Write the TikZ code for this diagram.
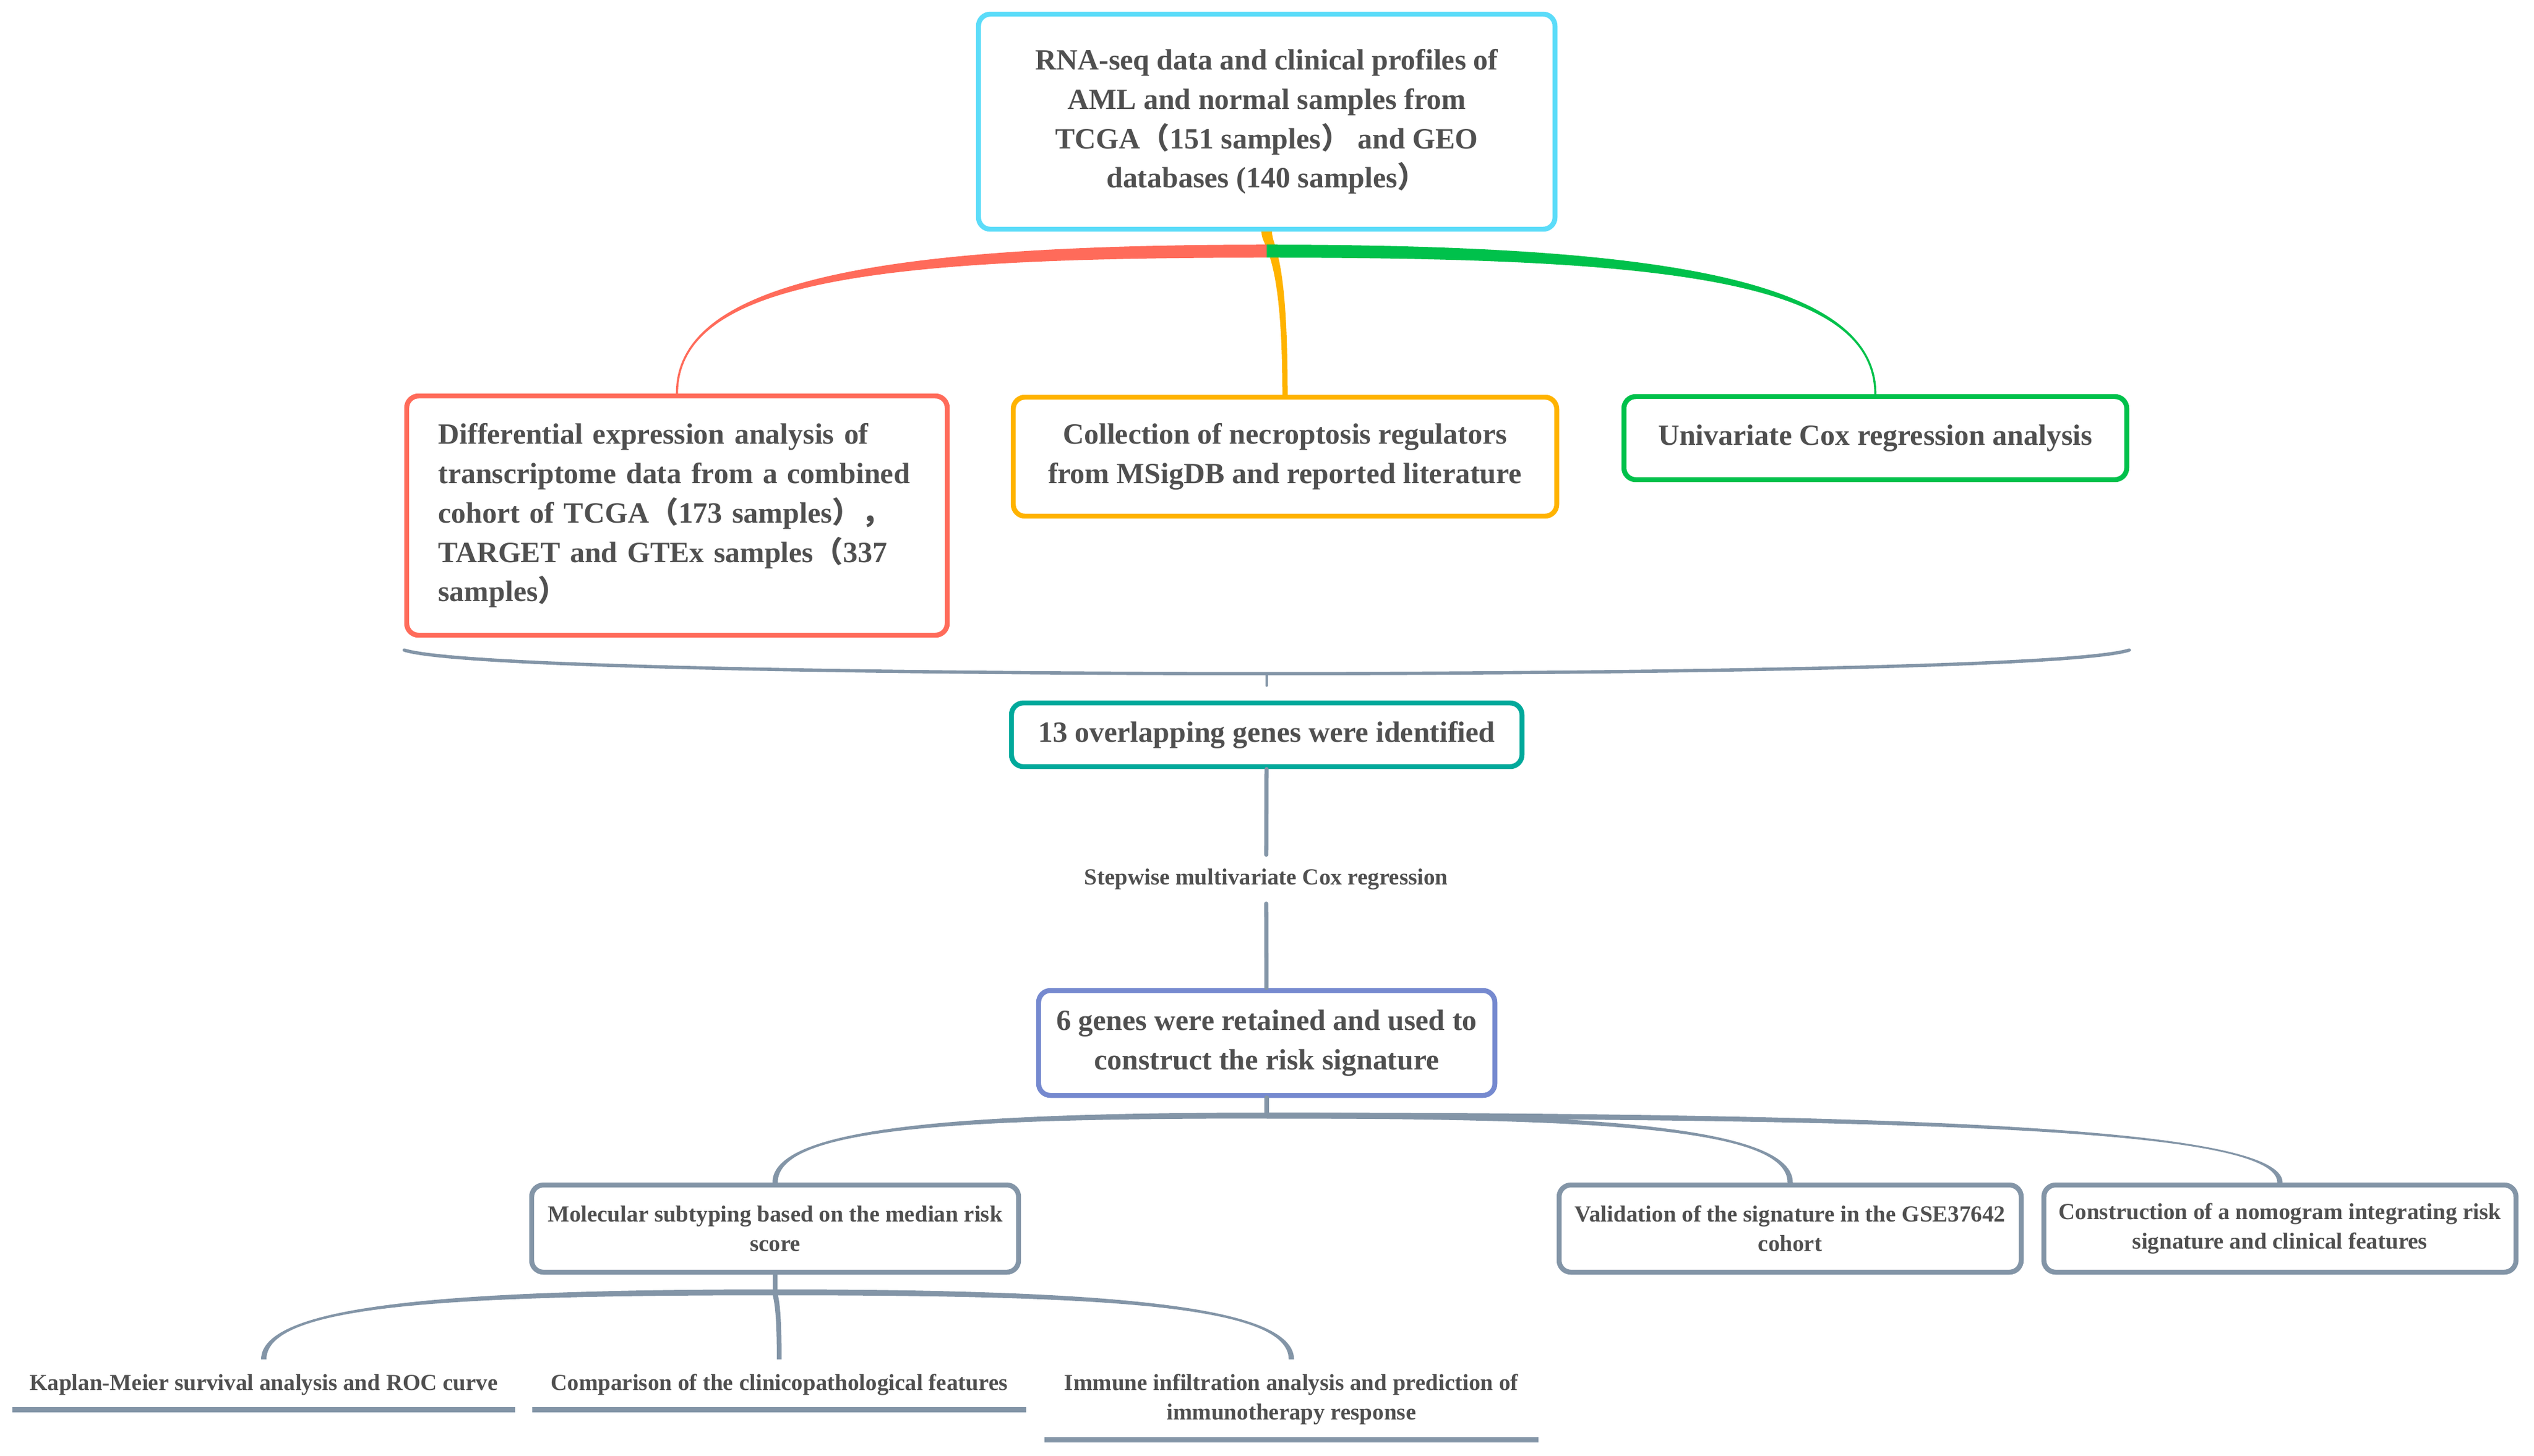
\documentclass[tikz,border=0pt]{standalone}
\usepackage{fontspec}
\setmainfont{Liberation Serif}
\newfontfamily\cjk{Noto Sans CJK SC}
\usepackage{tikz}
\usetikzlibrary{positioning}
\usetikzlibrary{calc}

\definecolor{rnacyan}{HTML}{5BDCF9}
\definecolor{diffred}{HTML}{FF6B5A}
\definecolor{collorange}{HTML}{FFB300}
\definecolor{coxgreen}{HTML}{00C14B}
\definecolor{overlapteal}{HTML}{00A99B}
\definecolor{sixblue}{HTML}{7589CF}
\definecolor{linkgray}{HTML}{8395A7}
\definecolor{txtgray}{HTML}{505050}

\tikzstyle{box} = [line width=2.4pt,rounded corners=0.2cm,fill=white,text=txtgray,align=center,inner sep=0pt,font=\bfseries\fontsize{14.2}{19}\selectfont]
\tikzstyle{smallbox} = [box,draw=linkgray,minimum height=1.48cm,font=\bfseries\fontsize{11.1}{14.2}\selectfont]
\tikzstyle{leaf} = [text=txtgray,align=center,inner sep=0pt,anchor=north,font=\bfseries\fontsize{11.1}{14.2}\selectfont]
\tikzstyle{uline} = [linkgray,line width=2.6pt]
\tikzstyle{stem} = [linkgray,line width=2.4pt,line cap=round]

% tapered branch: horizontal at the root, vertical at the leaf
\newcommand{\hbranch}[5]{%
	\fill[#1] let \p1=(#2), \p2=(#3), \n1={sign(\x2-\x1)*sign(\y1-\y2)} in
		(\x1,{\y1+#4}) .. controls ({\x1+0.65*(\x2-\x1)},{\y1+#4}) and ({\x2+(\n1)*(#5)},{\y1+0.2*(\y2-\y1)}) .. ({\x2+(\n1)*(#5)},\y2)
		-- ({\x2-(\n1)*(#5)},\y2) .. controls ({\x2-(\n1)*(#5)},{\y1+0.2*(\y2-\y1)}) and ({\x1+0.65*(\x2-\x1)},{\y1-#4}) .. (\x1,{\y1-#4}) -- cycle;
}
% tapered branch: vertical at both ends
\newcommand{\vbranch}[5]{%
	\fill[#1] let \p1=(#2), \p2=(#3) in
		({\x1-#4},\y1) .. controls ({\x1-#4},{\y1+0.1*(\y2-\y1)}) and ({\x2-#5},{\y1+0.1*(\y2-\y1)}) .. ({\x2-#5},\y2)
		-- ({\x2+#5},\y2) .. controls ({\x2+#5},{\y1+0.1*(\y2-\y1)}) and ({\x1+#4},{\y1+0.1*(\y2-\y1)}) .. ({\x1+#4},\y1) -- cycle;
}

\begin{document}
\begin{tikzpicture}
	\useasboundingbox (0,0) rectangle (42.99,-24.70);

	%Nodes
	\node [box,draw=rnacyan,minimum width=9.78cm,minimum height=3.65cm] (RNA) at (21.49,-2.065) {RNA-seq data and clinical profiles of\\AML and normal samples from\\TCGA{\cjk （}151 samples{\cjk ）} and GEO\\databases (140 samples{\cjk ）}};
	\node [box,draw=diffred,minimum width=9.17cm,minimum height=4.06cm,text width=8.1cm,align=left] (Diff) at (11.485,-8.75) {Differential expression analysis of\\transcriptome data from a combined\\cohort of TCGA{\cjk （}173 samples{\cjk ）}{\cjk ，}\\TARGET and GTEx samples{\cjk （}337\\samples{\cjk ）}};
	\node [box,draw=collorange,minimum width=9.22cm,minimum height=2.02cm] (Coll) at (21.80,-7.75) {Collection of necroptosis regulators\\from MSigDB and reported literature};
	\node [box,draw=coxgreen,minimum width=8.53cm,minimum height=1.41cm] (Cox) at (31.815,-7.435) {Univariate Cox regression analysis};
	\node [box,draw=overlapteal,minimum width=8.66cm,minimum height=1.08cm] (Overlap) at (21.49,-12.47) {13 overlapping genes were identified};
	\node [text=txtgray,inner xsep=0pt,inner ysep=0.23cm,font=\bfseries\fontsize{11.1}{14.2}\selectfont] (Step) at (21.48,-14.92) {Stepwise multivariate Cox regression};
	\node [box,draw=sixblue,minimum width=7.74cm,minimum height=1.78cm] (Six) at (21.49,-17.70) {6 genes were retained and used to\\construct the risk signature};
	\node [smallbox,minimum width=8.26cm] (Mol) at (13.15,-20.85) {Molecular subtyping based on the median risk\\score};
	\node [smallbox,minimum width=7.84cm] (Valid) at (30.37,-20.85) {Validation of the signature in the GSE37642\\cohort};
	\node [smallbox,minimum width=8.01cm,right=0.30cm of Valid] (Nomo) {Construction of a nomogram integrating risk\\signature and clinical features};
	\node [leaf,minimum width=8.51cm,minimum height=0.84cm] (KM) at (4.475,-23.07) {Kaplan-Meier survival analysis and ROC curve};
	\node [leaf,minimum width=8.37cm,minimum height=0.84cm,right=0.29cm of KM] (Comp) {Comparison of the clinicopathological features};
	\node [leaf,minimum width=8.36cm,minimum height=1.35cm,right=0.31cm of Comp.north east,anchor=north west] (Immune) {Immune infiltration analysis and prediction of\\immunotherapy response};

	%Hubs
	\coordinate (rnahub) at ($(RNA.south)+(0,-0.33)$);
	\coordinate (braceL) at ($(Diff.south west)+(0,-0.21)$);
	\coordinate (braceR) at (braceL -| Cox.east);
	\coordinate (braceC) at (braceL -| RNA.south);
	\coordinate (braceM) at ($(braceC)+(0,-0.40)$);
	\coordinate (braceS) at ($(braceM)+(0,-0.2)$);
	\coordinate (sixhub) at ($(Six.south)+(0,-0.30)$);
	\coordinate (molhub) at ($(Mol.south)+(0,-0.30)$);

	%Lines
	\vbranch{collorange}{RNA.south}{Coll.north}{0.09cm}{0.045cm}
	\hbranch{diffred}{rnahub}{Diff.north}{0.11cm}{0.018cm}
	\hbranch{coxgreen}{rnahub}{Cox.north}{0.11cm}{0.018cm}
	\draw[stem,line width=1.6pt] (braceL) .. controls +(1.0,-0.32) and +(-5,0) .. (braceM) .. controls +(5,0) and +(-1.0,-0.32) .. (braceR);
	\draw[stem,line width=1.4pt] (braceM) -- (braceS);
	\draw[stem,line width=2pt] (Overlap) -- (Step);
	\draw[stem,line width=2pt] (Step) -- (Six);
	\draw[stem] (Six) -- (sixhub);
	\foreach \b in {Mol,Valid,Nomo}
		\hbranch{linkgray}{sixhub}{\b.north}{0.05cm}{0.045cm};
	\draw[stem] (Mol) -- (molhub);
	\hbranch{linkgray}{molhub}{KM.north}{0.05cm}{0.045cm}
	\vbranch{linkgray}{molhub}{Comp.north}{0.045cm}{0.04cm}
	\hbranch{linkgray}{molhub}{Immune.north}{0.05cm}{0.045cm}
	\foreach \n in {KM,Comp,Immune}
		\draw[uline] (\n.south west) -- (\n.south east);

\end{tikzpicture}
\end{document}
